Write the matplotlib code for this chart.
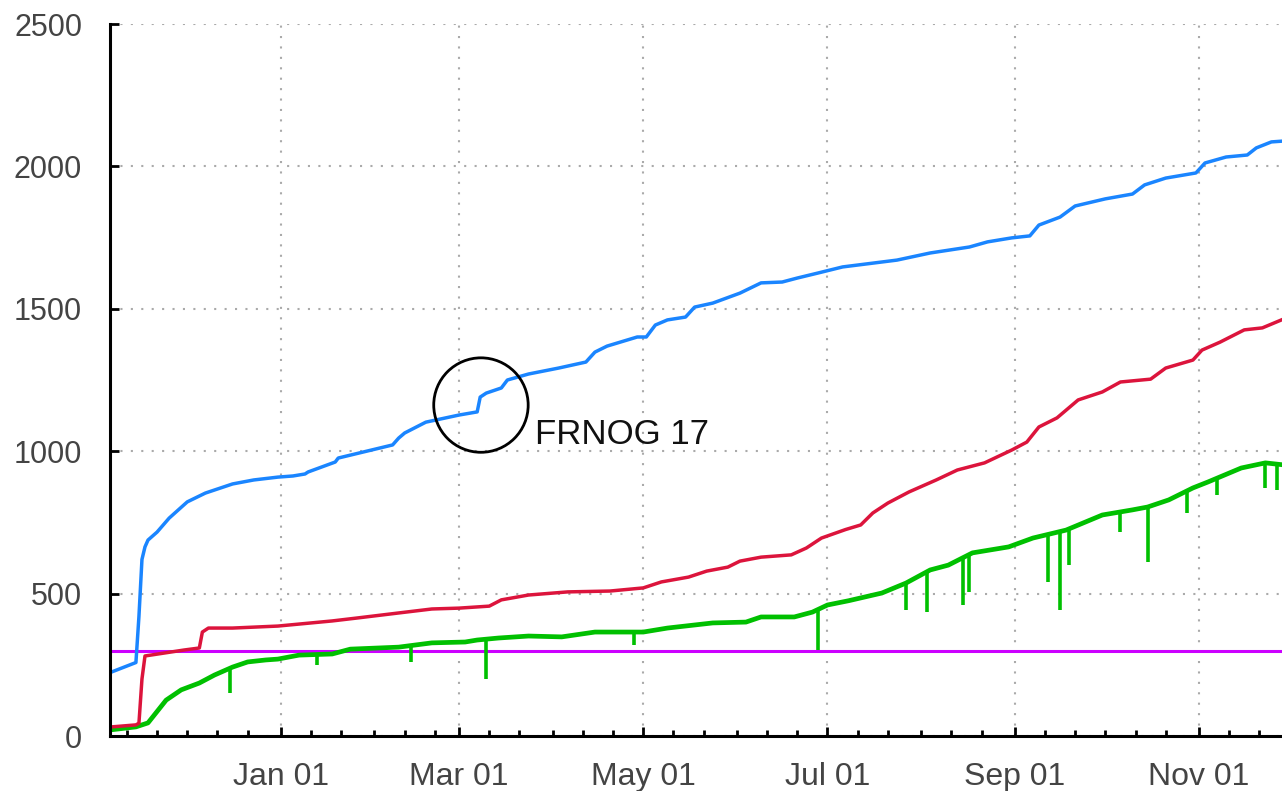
import numpy as np
import matplotlib
matplotlib.use("Agg")
import matplotlib.pyplot as plt
import matplotlib.dates as mdates

plt.rcParams['font.family'] = ['Liberation Sans', 'DejaVu Sans']

# blue series
blue_dates = ["2010-11-06", "2010-11-14", "2010-11-15", "2010-11-16", "2010-11-17", "2010-11-18",
              "2010-11-21", "2010-11-25", "2010-12-01", "2010-12-07", "2010-12-16", "2010-12-23",
              "2010-12-31", "2011-01-05", "2011-01-09", "2011-01-10", "2011-01-19", "2011-01-20",
              "2011-02-07", "2011-02-09", "2011-02-11", "2011-02-18", "2011-03-01", "2011-03-07",
              "2011-03-08", "2011-03-10", "2011-03-15", "2011-03-17", "2011-03-24", "2011-04-03",
              "2011-04-12", "2011-04-15", "2011-04-19", "2011-04-29", "2011-05-02", "2011-05-05",
              "2011-05-09", "2011-05-15", "2011-05-18", "2011-05-24", "2011-06-02", "2011-06-09",
              "2011-06-16", "2011-06-21", "2011-06-28", "2011-07-06", "2011-07-24", "2011-08-04",
              "2011-08-17", "2011-08-23", "2011-08-31", "2011-09-06", "2011-09-09", "2011-09-16",
              "2011-09-21", "2011-10-01", "2011-10-10", "2011-10-14", "2011-10-21", "2011-10-31",
              "2011-11-03", "2011-11-10", "2011-11-17", "2011-11-20", "2011-11-25", "2011-11-29"]
blue_vals = [225, 258, 420, 620, 664, 688,
             716, 765, 822, 853, 885, 899,
             909, 913, 920, 927, 962, 976,
             1022, 1046, 1064, 1102, 1127, 1138,
             1190, 1204, 1222, 1250, 1271, 1292,
             1313, 1348, 1369, 1401, 1401, 1443,
             1461, 1471, 1506, 1520, 1555, 1591,
             1594, 1608, 1626, 1647, 1671, 1696,
             1717, 1735, 1749, 1756, 1794, 1822,
             1861, 1886, 1903, 1935, 1959, 1977,
             2012, 2033, 2040, 2065, 2086, 2089]

# red series
red_dates = ["2010-11-06", "2010-11-14", "2010-11-15", "2010-11-16", "2010-11-17", "2010-11-30",
             "2010-12-05", "2010-12-06", "2010-12-08", "2010-12-16", "2010-12-31", "2011-01-07",
             "2011-01-18", "2011-01-26", "2011-02-09", "2011-02-20", "2011-03-01", "2011-03-11",
             "2011-03-15", "2011-03-24", "2011-04-06", "2011-04-20", "2011-05-01", "2011-05-07",
             "2011-05-16", "2011-05-22", "2011-05-29", "2011-06-02", "2011-06-09", "2011-06-19",
             "2011-06-24", "2011-06-29", "2011-07-07", "2011-07-12", "2011-07-16", "2011-07-21",
             "2011-07-28", "2011-08-06", "2011-08-13", "2011-08-22", "2011-08-31", "2011-09-05",
             "2011-09-09", "2011-09-15", "2011-09-22", "2011-09-30", "2011-10-06", "2011-10-16",
             "2011-10-21", "2011-10-30", "2011-11-02", "2011-11-08", "2011-11-16", "2011-11-22",
             "2011-11-29"]
red_vals = [32, 39, 45, 200, 281, 302,
            309, 365, 379, 379, 386, 393,
            404, 414, 432, 446, 449, 456,
            478, 495, 506, 509, 520, 541,
            558, 579, 593, 614, 628, 636,
            660, 695, 725, 741, 783, 818,
            857, 899, 934, 959, 1004, 1032,
            1085, 1117, 1180, 1208, 1243, 1253,
            1292, 1320, 1355, 1383, 1426, 1433,
            1464]

# green series
green_dates = ["2010-11-06", "2010-11-14", "2010-11-18", "2010-11-24", "2010-11-29", "2010-12-05",
               "2010-12-10", "2010-12-16", "2010-12-21", "2010-12-27", "2010-12-31", "2011-01-07",
               "2011-01-18", "2011-01-24", "2011-02-09", "2011-02-20", "2011-03-03", "2011-03-07",
               "2011-03-14", "2011-03-24", "2011-04-04", "2011-04-15", "2011-05-01", "2011-05-09",
               "2011-05-24", "2011-06-04", "2011-06-09", "2011-06-20", "2011-06-26", "2011-07-01",
               "2011-07-08", "2011-07-19", "2011-07-27", "2011-08-04", "2011-08-10", "2011-08-18",
               "2011-08-30", "2011-09-07", "2011-09-18", "2011-09-30", "2011-10-10", "2011-10-15",
               "2011-10-22", "2011-10-30", "2011-11-04", "2011-11-15", "2011-11-23", "2011-11-29"]
green_vals = [22, 32, 46, 126, 162, 186,
              214, 242, 260, 267, 270, 284,
              288, 305, 312, 327, 330, 337,
              344, 351, 348, 365, 365, 379,
              397, 400, 418, 418, 435, 460,
              475, 502, 537, 583, 600, 643,
              664, 695, 723, 776, 794, 804,
              829, 871, 892, 941, 959, 952]

# green dips (top at the line, bottom of the drop)
dip_dates = ["2010-12-15", "2011-01-13", "2011-02-13", "2011-03-10", "2011-04-28", "2011-06-28",
             "2011-07-27", "2011-08-03", "2011-08-15", "2011-08-17", "2011-09-12", "2011-09-16",
             "2011-09-19", "2011-10-06", "2011-10-15", "2011-10-28", "2011-11-07", "2011-11-23",
             "2011-11-27"]
dip_top = [240, 287, 314, 340, 366, 447,
           540, 580, 632, 644, 710, 720,
           728, 790, 806, 864, 906, 961,
           955]
dip_bottom = [151, 249, 260, 200, 320, 302,
              442, 435, 460, 506, 541, 442,
              600, 716, 611, 783, 846, 871,
              864]

threshold = 300

x_start = np.datetime64("2010-11-05T10:00")
x_end = np.datetime64("2011-11-28T12:00")

fig = plt.figure(figsize=(12.82, 7.91), dpi=100)
ax = fig.add_axes([110 / 1282, 1 - 736 / 791, 1 - 110 / 1282, (736 - 24) / 791])

ax.axhline(threshold, color='#cc00ff', lw=2.2, zorder=2)
ax.plot(np.array(green_dates, dtype='datetime64[D]'), green_vals, color='#00c000', lw=3.4, zorder=3)
ax.vlines(np.array(dip_dates, dtype='datetime64[D]'), dip_bottom, dip_top, color='#00c000', lw=2.6, zorder=3)
ax.plot(np.array(red_dates, dtype='datetime64[D]'), red_vals, color='#dc143c', lw=2.5, zorder=4)
ax.plot(np.array(blue_dates, dtype='datetime64[D]'), blue_vals, color='#1a85ff', lw=2.5, zorder=5)

# annotation
ax.scatter([np.datetime64("2011-03-08T06:00")], [1162], s=68 ** 2, facecolors='none',
           edgecolors='black', linewidths=2.0, zorder=6)
ax.text(np.datetime64("2011-03-26"), 1060, "FRNOG 17", fontsize=25, color='#111111',
        ha='left', va='center', zorder=6)

ax.set_xlim(x_start, x_end)
ax.set_ylim(0, 2500)
ax.set_yticks([0, 500, 1000, 1500, 2000, 2500])

ax.xaxis.set_major_locator(mdates.MonthLocator(bymonth=[1, 3, 5, 7, 9, 11]))
ax.xaxis.set_major_formatter(mdates.DateFormatter('%b %d'))
ax.xaxis.set_minor_locator(mdates.DayLocator(bymonthday=[1, 11, 21]))

ax.tick_params(axis='both', which='major', direction='in', length=6.5, width=2.0,
               labelsize=22, labelcolor='#444444', pad=20, color='black')
ax.tick_params(axis='x', which='minor', direction='in', length=4, width=2.0, color='black')
ax.tick_params(axis='x', which='major', pad=19, labelsize=23)

for side in ['top', 'right']:
    ax.spines[side].set_visible(False)
for side in ['left', 'bottom']:
    ax.spines[side].set_linewidth(2.2)
    ax.spines[side].set_color('black')
    ax.spines[side].set_zorder(7)

ax.grid(True, which='major', color='#aaaaaa', lw=1.5, linestyle=(0, (1, 4)))
ax.set_axisbelow(True)

fig.savefig("out.png", dpi=100)
